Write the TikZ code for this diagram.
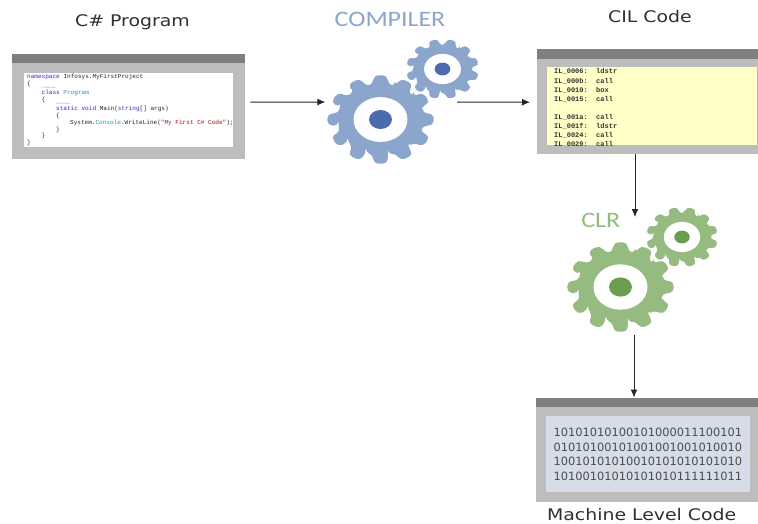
\documentclass[tikz,border=0pt]{standalone}
\usepackage{fontspec}
\setmainfont{DejaVu Sans}
\setmonofont{Liberation Mono}
\newfontfamily\lightfont[FakeStretch=1.18]{Carlito}
\newfontfamily\widefont[FakeStretch=1.18]{DejaVu Sans}
\usetikzlibrary{arrows.meta,calc}
\definecolor{winbody}{HTML}{BDBDBD}
\definecolor{winhead}{HTML}{7F7F7F}
\definecolor{gearblue}{HTML}{8CA5CD}
\definecolor{hubblue}{HTML}{4A6CAE}
\definecolor{geargreen}{HTML}{95BB80}
\definecolor{hubgreen}{HTML}{6A9E4D}
\definecolor{cilyellow}{HTML}{FFFFC8}
\definecolor{binpanel}{HTML}{D6DDE9}
\definecolor{titleink}{HTML}{303030}
\definecolor{kwblue}{HTML}{2B2BE0}
\definecolor{typeteal}{HTML}{2B91AF}
\definecolor{strred}{HTML}{A31515}
\newcommand{\gearat}[9]{% cx cy rx ry rot corner colour hubcolour name
  \begin{scope}[shift={(#1,#2)},xscale=#3/50,yscale=#4/50]
    \fill[#7,rounded corners=#6pt] (#5-10:40)
      \foreach \a in {0,30,...,330}{
        -- ({#5+\a-10}:40) -- ({#5+\a-7.5}:50) -- ({#5+\a+7.5}:50) -- ({#5+\a+10}:40) -- ({#5+\a+20}:40)
      } -- cycle;
    \fill[white] (0,0) circle (25.2);
    \fill[#8] (0,0) circle (10.7);
  \end{scope}
  \node[minimum width=2*#3*1pt,minimum height=2*#4*1pt,inner sep=0pt] (#9) at (#1,#2) {};
}
\tikzset{
  windowbody/.style={fill=winbody,draw=none,inner sep=0pt,anchor=north west},
  windowhead/.style={fill=winhead,draw=none},
  title/.style={font=\widefont\fontsize{16}{18}\selectfont,text=titleink,inner sep=0pt,anchor=base},
  logo/.style={font=\lightfont\fontsize{22}{24}\selectfont,inner sep=0pt},
  codeline/.style={font=\ttfamily\fontsize{6.05}{7}\selectfont,inner sep=0pt,anchor=base west,text=black!85},
  refline/.style={font=\sffamily\fontsize{2.6}{3}\selectfont,inner sep=0pt,anchor=base west,text=black!40},
  cilline/.style={font=\ttfamily\bfseries\fontsize{7}{8}\selectfont,inner sep=0pt,anchor=base west,text=black!80},
  binline/.style={font=\fontsize{11.4}{13}\selectfont,inner sep=0pt,text=black!70},
  arr/.style={-{Latex[length=8pt,width=7pt]},line width=1pt,draw=black!85},
}
\begin{document}
\begin{tikzpicture}[x=1pt,y=-1pt]
\useasboundingbox (0,0) rectangle (758,523);
\fill[white] (0,0) rectangle (758,523);

% C# window
\node[windowbody,minimum width=232.5pt,minimum height=105.5pt] (cs) at (12,53.5) {};
\fill[windowhead] (12,53.5) rectangle (244.5,63.3);
\fill[white] (24,73) rectangle (233,147);
\node[codeline] (c1) at (27,78) {\textcolor{kwblue}{namespace} Infosys.MyFirstProject};
\node[codeline] (c2) at (27,85) {\{};
\node[refline] (r1) at (41.5,88) {0 references};
\node[codeline] (c3) at (41.5,94.5) {\textcolor{kwblue}{class} \textcolor{typeteal}{Program}};
\node[codeline] (c4) at (41.5,101.5) {\{};
\node[refline] (r2) at (56,104) {0 references};
\node[codeline] (c5) at (56,110.5) {\textcolor{kwblue}{static void} Main(\textcolor{kwblue}{string}[] args)};
\node[codeline] (c6) at (56,117.5) {\{};
\node[codeline] (c7) at (70,124) {System.\textcolor{typeteal}{Console}.WriteLine(\textcolor{strred}{"My First C\# Code"});};
\node[codeline] (c8) at (56,131) {\}};
\node[codeline] (c9) at (41.5,137.5) {\}};
\node[codeline] (c10) at (27,144.5) {\}};

% CIL window
\node[windowbody,minimum width=221pt,minimum height=105.5pt] (cil) at (537,48.5) {};
\fill[windowhead] (537,48.5) rectangle (758,58.5);
\fill[cilyellow] (547,66.5) rectangle (757,145);
\begin{scope}
  \clip (547,66.5) rectangle (757,145.5);
  \foreach \yy/\lab/\op/\nm in {73.5/0006/ldstr/a,83/000b/call/b,92/0010/box/c,101/0015/call/d,119/001a/call/e,128/001f/ldstr/f,137/0024/call/g,146/0029/call/h}{
    \node[cilline] (il\nm) at (554,\yy) {IL\_\lab:\ \ \op};
  }
\end{scope}

% Machine window
\node[windowbody,minimum width=222pt,minimum height=104pt] (mach) at (536,397.5) {};
\fill[windowhead] (536,397.5) rectangle (758,407);
\fill[binpanel] (546,416) rectangle (750,492);
\node[binline] (b1) at (647.8,432) {10101010100101000011100101};
\node[binline] (b2) at (647.8,447) {01010100101001001001010010};
\node[binline] (b3) at (647.8,461.5) {10010101010010101010101010};
\node[binline] (b4) at (647.8,476) {10100101010101010111111011};

% Gears
\gearat{442.5}{69}{36.5}{30}{15}{3}{gearblue}{hubblue}{compsmall}
\gearat{380.5}{119.5}{53.5}{44.5}{0}{4.5}{gearblue}{hubblue}{comp}
\gearat{682}{237}{36}{30}{15}{3}{geargreen}{hubgreen}{clrsmall}
\gearat{620.5}{287}{53.5}{45}{0}{4.5}{geargreen}{hubgreen}{clr}

% Titles
\node[title] (tcs) at (132.5,26.5) {C\# Program};
\node[title] (tcil) at (650,22.5) {CIL Code};
\node[title] (tmach) at (641.7,520) {Machine Level Code};
\node[logo,text=gearblue] (tcomp) at (390,19.5) {COMPILER};
\node[logo,text=geargreen] (tclr) at (600.7,220) {CLR};

% Connectors
\draw[arr] ([shift={(5.5,-4.25)}]cs.east) -- ([shift={(-1.5,-17.5)}]comp.west);
\draw[arr] ([shift={(23,-17.5)}]comp.east) -- ([shift={(-7,0.75)}]cil.west);
\draw[arr] (cil.south -| 635,0) -- (635,217);
\draw[arr] (clr.south -| 634,0) ++(0,3) -- (mach.north -| 634,0);
\end{tikzpicture}
\end{document}
